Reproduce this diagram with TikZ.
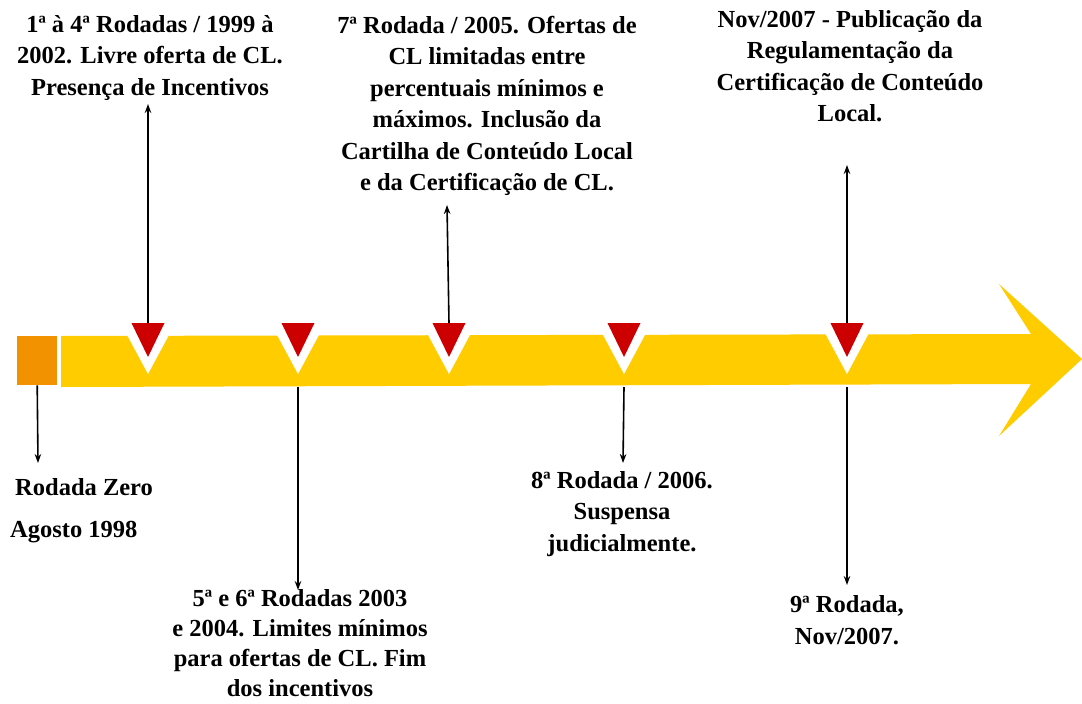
\documentclass[tikz,border=0pt]{standalone}
\usepackage{fontspec}
\setmainfont{Liberation Serif}
\usetikzlibrary{arrows.meta}
\definecolor{baryellow}{HTML}{FFCC00}
\definecolor{sqorange}{HTML}{F39200}
\definecolor{mkred}{HTML}{CC0000}
\begin{document}
\begin{tikzpicture}[x=1pt,y=-1pt,
  lbl/.style={font=\bfseries\fontsize{24.5}{31.5}\selectfont, align=center, inner sep=0pt, text=black},
  conn/.style={line width=1.6pt, draw=black, -{Stealth[length=9pt,width=6.5pt]}},
  marker/.style={fill=white, draw=none},
  redmk/.style={fill=mkred, draw=none}]
\useasboundingbox (0,0) rectangle (1082,704);
\fill[white] (0,0) rectangle (1082,704);
% timeline bar and arrow head
\fill[baryellow] (61,336) -- (1031,334) -- (999,284) -- (1082,359) -- (999,436) -- (1031,384) -- (61,387) -- cycle;
% starting square
\node[fill=sqorange, minimum width=40pt, minimum height=49pt, inner sep=0pt, anchor=north west] (sq) at (17,336) {};
% markers
\foreach \n/\x in {1/148,2/298,3/449,4/624,5/847}{
  \fill[marker] (\x-29,320) -- (\x+29,320) -- (\x,374) -- cycle;
  \fill[redmk] (\x-16.5,323) -- (\x+16.5,323) -- (\x,357) -- cycle;
  \coordinate (t\n) at (\x,323);
  \coordinate (b\n) at (\x,387);
}
% texts
\node[lbl] (txt1) at (150,58) {1ª à 4ª Rodadas / 1999 à\\2002. Livre oferta de CL.\\Presença de Incentivos};
\node[lbl] (txt3) at (487,106) {7ª Rodada / 2005. Ofertas de\\CL limitadas entre\\percentuais mínimos e\\máximos. Inclusão da\\Cartilha de Conteúdo Local\\e da Certificação de CL.};
\node[lbl] (txt5u) at (850,66) {Nov/2007 - Publicação da\\Regulamentação da\\Certificação de Conteúdo\\Local.};
\node[lbl, anchor=west] (txt0a) at (15,487) {Rodada Zero};
\node[lbl, anchor=west] (txt0b) at (10,532) {Agosto 1998};
\node[lbl, font=\bfseries\fontsize{24.5}{30}\selectfont] (txt2) at (300,643) {5ª e 6ª Rodadas 2003\\e 2004. Limites mínimos\\para ofertas de CL. Fim\\dos incentivos};
\node[lbl] (txt4) at (622,514) {8ª Rodada / 2006.\\Suspensa\\judicialmente.};
\node[lbl] (txt5d) at (847,620) {9ª Rodada,\\Nov/2007.};
% connector ends
\coordinate (e0) at (38,463);
\coordinate (e1) at (148,104);
\coordinate (e2) at (298,590);
\coordinate (e3) at (447,205);
\coordinate (e4) at (623,463);
\coordinate (e5u) at (847,165);
\coordinate (e5d) at (847,585);
% connectors
\draw[conn] (sq.south) -- (e0);
\draw[conn] (t1) -- (e1);
\draw[conn] (b2) -- (e2);
\draw[conn] (t3) -- (e3);
\draw[conn] (b4) -- (e4);
\draw[conn] (t5) -- (e5u);
\draw[conn] (b5) -- (e5d);
\end{tikzpicture}
\end{document}
